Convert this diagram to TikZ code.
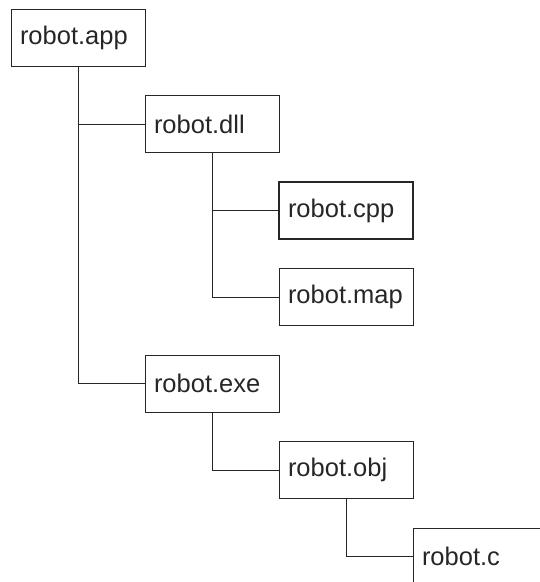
\documentclass[tikz,border=0pt]{standalone}
\usepackage{fontspec}
\setmainfont{Liberation Sans}
\begin{document}
\begin{tikzpicture}[x=1pt,y=-1pt,
  filebox/.style={draw=black!85,line width=0.8pt,minimum width=134pt,minimum height=57pt,
    text width=116pt,inner sep=9pt,align=left,text=black!85,font=\fontsize{25.5}{29}\selectfont},
  link/.style={draw=black!85,line width=0.8pt}]
  \useasboundingbox (0,0) rectangle (540,582);
  \clip (0,0) rectangle (540,582);
  \foreach \name/\col/\row in {app/0/0,dll/1/1,cpp/2/2,map/2/3,exe/1/4,obj/2/5,c/3/6} {
    \coordinate (P\name) at (78+134*\col,37.5+86.5*\row);
  }
  \node[filebox] (app) at (Papp) {robot.app};
  \node[filebox] (dll) at (Pdll) {robot.dll};
  \node[filebox,line width=1.6pt] (cpp) at (Pcpp) {robot.cpp};
  \node[filebox] (map) at (Pmap) {robot.map};
  \node[filebox] (exe) at (Pexe) {robot.exe};
  \node[filebox] (obj) at (Pobj) {robot.obj};
  \node[filebox] (c) at (Pc) {robot.c};
  \draw[link] (app.south) |- (dll.west);
  \draw[link] (app.south) |- (exe.west);
  \draw[link] (dll.south) |- (cpp.west);
  \draw[link] (dll.south) |- (map.west);
  \draw[link] (exe.south) |- (obj.west);
  \draw[link] (obj.south) |- (c.west);
\end{tikzpicture}
\end{document}
